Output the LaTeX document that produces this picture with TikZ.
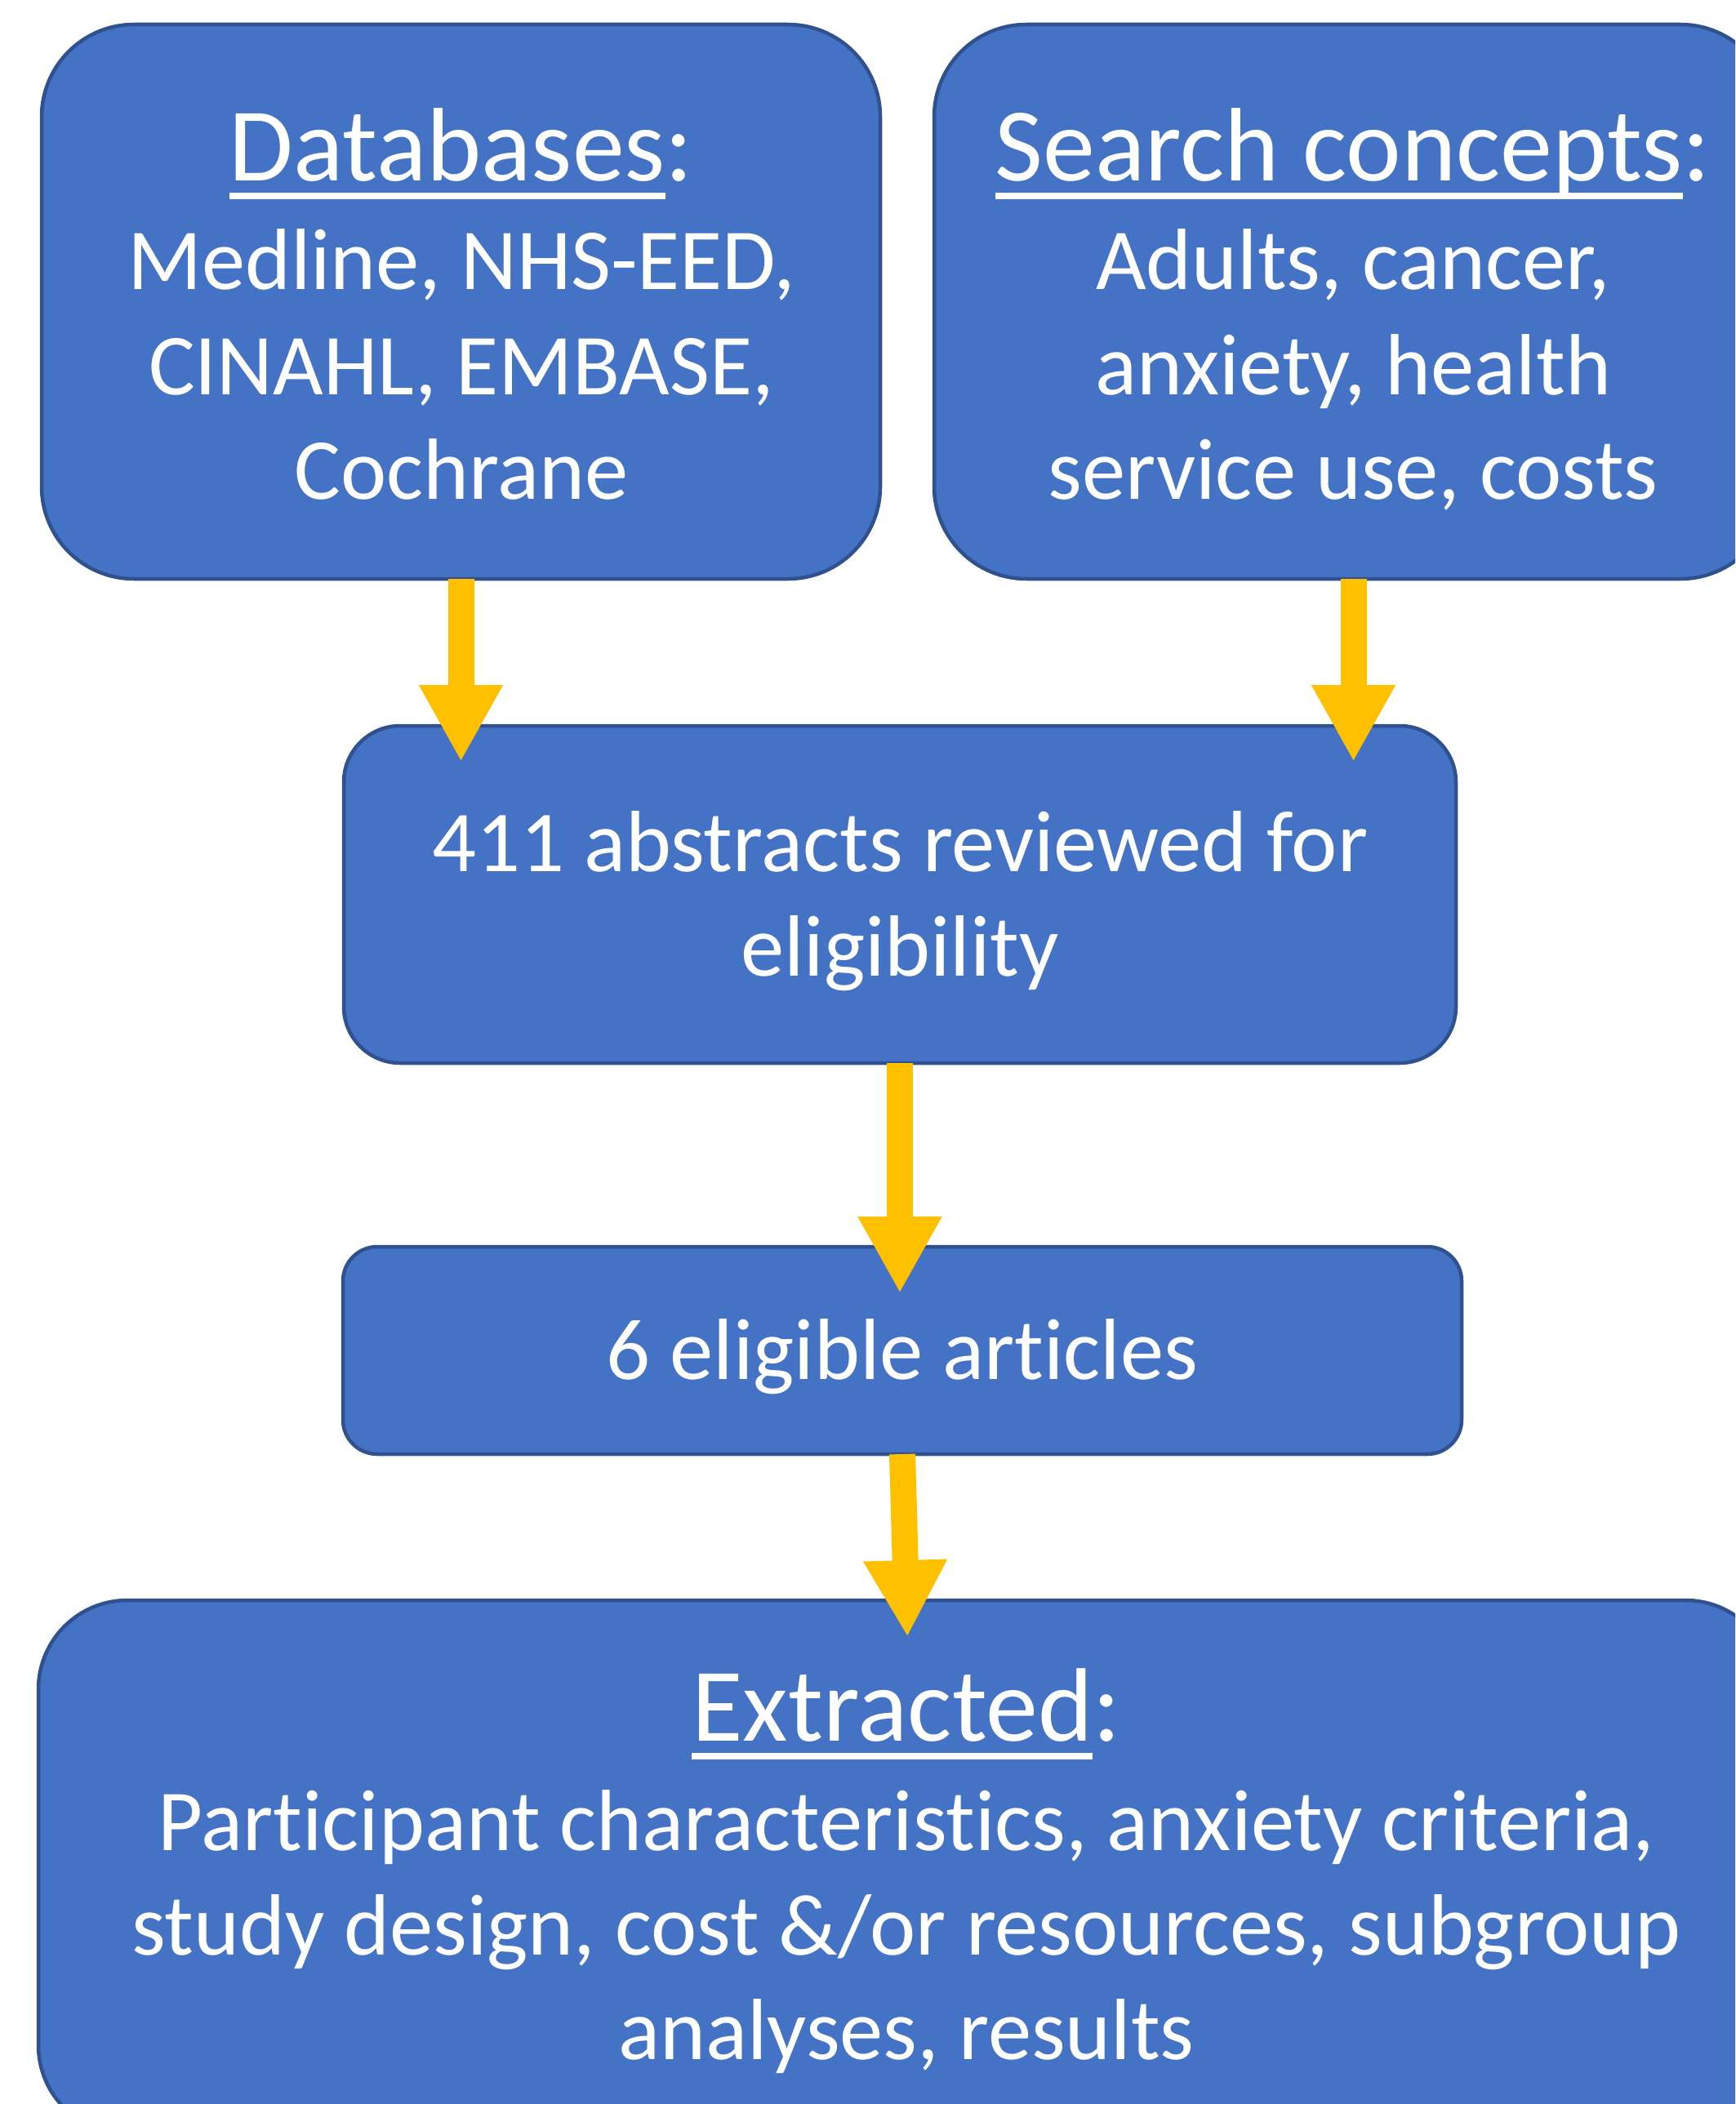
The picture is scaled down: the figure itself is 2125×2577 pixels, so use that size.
\documentclass[tikz,border=0pt]{standalone}
\usepackage{fontspec}
\setmainfont{Carlito}[Ligatures=NoCommon]
\usetikzlibrary{arrows.meta}

\definecolor{boxfill}{HTML}{4472C4}
\definecolor{boxline}{HTML}{2F528F}
\definecolor{flow}{HTML}{FFC000}

\newcommand\headfont{\fontsize{128}{150}\selectfont}
\newcommand\bodyfont{\fontsize{106.5}{128}\selectfont}
% thick underline under a heading word
\newsavebox\ulbox
\newcommand\ulword[1]{\sbox\ulbox{#1}\rlap{\rule[-23pt]{\wd\ulbox}{8pt}}\usebox\ulbox}

\begin{document}
\begin{tikzpicture}[x=1pt,y=-1pt,
  box/.style={draw=boxline, line width=4.5pt, fill=boxfill,
              rounded corners=#1, inner sep=0pt, outer sep=0pt},
  txt/.style={text=white, anchor=base, inner sep=0pt},
  flowarrow/.style={draw=flow, line width=32pt,
              -{Triangle[width=96pt,length=94pt]}}]

\useasboundingbox (0,0) rectangle (2125,2577);
\fill[white] (0,0) rectangle (2125,2577);
\clip (0,0) rectangle (2125,2577);

% boxes
\node[box=113pt, minimum width=1027pt, minimum height=679pt] (db)   at (564.5,369.5) {};
\node[box=113pt, minimum width=1027pt, minimum height=679pt] (sc)   at (1657.5,369.5) {};
\node[box=69pt,  minimum width=1362pt, minimum height=413pt] (rev)  at (1102,1095.5) {};
\node[box=42pt,  minimum width=1370pt, minimum height=254pt] (elig) at (1105,1654) {};
\node[box=109pt, minimum width=2126pt, minimum height=654pt] (ext)  at (1110,2287) {};

% texts
\node[txt] (dbh) at (565,221) {\headfont\ulword{Databases}:};
\node[txt] (db1) at (565,354) {\bodyfont Medline, NHS-EED,};
\node[txt] (db2) at (565,483) {\bodyfont CINAHL, EMBASE,};
\node[txt] (db3) at (565,611) {\bodyfont Cochrane};

\node[txt] (sch) at (1657,221) {\headfont\ulword{Search concepts}:};
\node[txt] (sc1) at (1657,354) {\bodyfont Adults, cancer,};
\node[txt] (sc2) at (1657,483) {\bodyfont anxiety, health};
\node[txt] (sc3) at (1657,611) {\bodyfont service use, costs};

\node[txt] (rev1) at (1102,1067) {\bodyfont 411 abstracts reviewed for};
\node[txt] (rev2) at (1102,1195) {\bodyfont eligibility};

\node[txt] (el1) at (1105,1689) {\bodyfont 6 eligible articles};

\node[txt] (exh) at (1110,2132) {\headfont\ulword{Extracted}:};
\node[txt] (ex1) at (1110,2266) {\bodyfont Participant characteristics, anxiety criteria,};
\node[txt] (ex2) at (1110,2394) {\bodyfont study design, cost \&/or resources, subgroup};
\node[txt] (ex3) at (1110,2522) {\bodyfont analyses, results};

% connectors
\draw[flowarrow, shorten >=-44pt] (db.south) -- (db.south |- rev.north);
\draw[flowarrow, shorten >=-44pt] (sc.south) -- (sc.south |- rev.north);
\draw[flowarrow, shorten >=-57pt] (rev.south) -- (rev.south |- elig.north);
\draw[flowarrow, shorten >=-45pt] (elig.south) -- (ext.north);

\end{tikzpicture}
\end{document}
